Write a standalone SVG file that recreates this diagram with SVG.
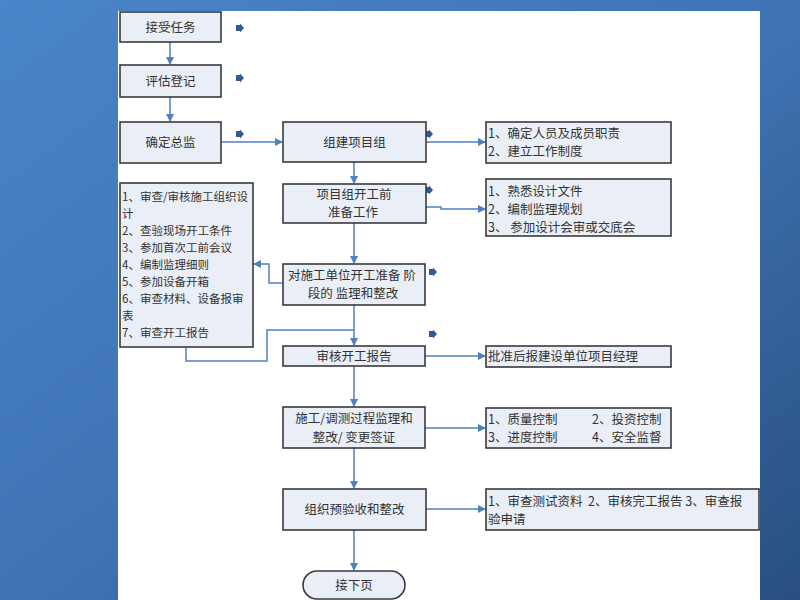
<svg xmlns="http://www.w3.org/2000/svg" width="800" height="600" viewBox="0 0 800 600">
<defs>
<linearGradient id="bg" x1="0" y1="0" x2="1" y2="1">
<stop offset="0" stop-color="#4a85c9"/>
<stop offset="0.5" stop-color="#3f74b4"/>
<stop offset="1" stop-color="#294f80"/>
</linearGradient>
<marker id="ah" markerWidth="8" markerHeight="8" refX="7" refY="4" orient="auto" markerUnits="userSpaceOnUse">
<path d="M0,0 L8,4 L0,8 Z" fill="#4f81bd"/>
</marker>
<path id="bul" d="M-4,-3 L0,-3 L0,-4.5 L4,0 L0,4.5 L0,3 L-4,3 Z" fill="#2f5a96"/>
</defs>
<style>
.box{fill:#e9eef7;stroke:#3a3a3a;stroke-width:1.6}
.t{font-family:"Noto Sans CJK SC","Noto Sans",sans-serif;font-size:12.5px;fill:#333}
.s{font-size:11.5px}
.c{text-anchor:middle}
.ln{fill:none;stroke:#4f81bd;stroke-width:1.5}
</style>
<rect x="0" y="0" width="800" height="600" fill="url(#bg)"/>
<rect x="118" y="11" width="642" height="589" fill="#ffffff"/>

<g id="connectors">
<path class="ln" d="M170,42 V64" marker-end="url(#ah)"/>
<path class="ln" d="M170,97 V121" marker-end="url(#ah)"/>
<path class="ln" d="M221,142 H282" marker-end="url(#ah)"/>
<path class="ln" d="M426,142 H485" marker-end="url(#ah)"/>
<path class="ln" d="M354,162 V183" marker-end="url(#ah)"/>
<path class="ln" d="M426,207 H441 V209 H485" marker-end="url(#ah)"/>
<path class="ln" d="M354,223 V263" marker-end="url(#ah)"/>
<path class="ln" d="M283,283 H269 V264 H254" marker-end="url(#ah)"/>
<path class="ln" d="M354,305 V345" marker-end="url(#ah)"/>
<path class="ln" d="M186,347 V361 H267 V330 H354"/>
<path class="ln" d="M425,356 H485" marker-end="url(#ah)"/>
<path class="ln" d="M354,366 V406" marker-end="url(#ah)"/>
<path class="ln" d="M425,428 H485" marker-end="url(#ah)"/>
<path class="ln" d="M354,448 V488" marker-end="url(#ah)"/>
<path class="ln" d="M426,509 H485" marker-end="url(#ah)"/>
<path class="ln" d="M354,530 V570" marker-end="url(#ah)"/>
</g>

<g id="bullets">
<use href="#bul" x="240" y="28"/>
<use href="#bul" x="240" y="78"/>
<use href="#bul" x="240" y="134"/>
<use href="#bul" x="429" y="134"/>
<use href="#bul" x="429" y="190"/>
<use href="#bul" x="433" y="272"/>
<use href="#bul" x="433" y="334"/>
</g>

<g id="n1"><rect class="box" x="120" y="12" width="101" height="30"/><text class="t c" x="170.5" y="31.5">接受任务</text></g>
<g id="n2"><rect class="box" x="120" y="65" width="101" height="32"/><text class="t c" x="170.5" y="85.5">评估登记</text></g>
<g id="n3"><rect class="box" x="120" y="122" width="101" height="41"/><text class="t c" x="170.5" y="146.5">确定总监</text></g>
<g id="n4"><rect class="box" x="283" y="122" width="143" height="40"/><text class="t c" x="354.5" y="146.5">组建项目组</text></g>
<g id="n5"><rect class="box" x="283" y="184" width="143" height="39"/><text class="t c" x="354" y="198.5">项目组开工前</text><text class="t c" x="353" y="216.5">准备工作</text></g>
<g id="n6"><rect class="box" x="283" y="264" width="142" height="41"/><text class="t c" x="352" y="279.5">对施工单位开工准备 阶</text><text class="t c" x="353" y="298">段的 监理和整改</text></g>
<g id="n7"><rect class="box" x="120" y="183" width="133" height="164"/>
<text class="t s" x="122" y="201">1、审查/审核施工组织设</text>
<text class="t s" x="122" y="218">计</text>
<text class="t s" x="122" y="234.5">2、查验现场开工条件</text>
<text class="t s" x="122" y="251.5">3、参加首次工前会议</text>
<text class="t s" x="122" y="268.5">4、编制监理细则</text>
<text class="t s" x="122" y="286">5、参加设备开箱</text>
<text class="t s" x="122" y="302.5">6、审查材料、设备报审</text>
<text class="t s" x="122" y="319.5">表</text>
<text class="t s" x="122" y="336.5">7、审查开工报告</text>
</g>
<g id="n8"><rect class="box" x="283" y="346" width="142" height="20"/><text class="t c" x="354" y="360.5">审核开工报告</text></g>
<g id="n9"><rect class="box" x="283" y="407" width="142" height="41"/><text class="t c" x="354" y="422.5">施工/调测过程监理和</text><text class="t c" x="354" y="441.5">整改/ 变更签证</text></g>
<g id="n10"><rect class="box" x="283" y="489" width="143" height="41"/><text class="t c" x="354.5" y="513.5">组织预验收和整改</text></g>
<g id="n11"><rect class="box" x="303" y="571" width="102" height="28" rx="14"/><text class="t c" x="354" y="589.5">接下页</text></g>

<g id="r1"><rect class="box" x="486" y="122" width="185" height="41"/><text class="t" x="488" y="137.5">1、确定人员及成员职责</text><text class="t" x="488" y="155.5">2、建立工作制度</text></g>
<g id="r2"><rect class="box" x="486" y="179" width="185" height="57"/><text class="t" x="488" y="195.5">1、熟悉设计文件</text><text class="t" x="488" y="213.5">2、编制监理规划</text><text class="t" x="488" y="231.5">3、 参加设计会审或交底会</text></g>
<g id="r3"><rect class="box" x="486" y="346" width="185" height="21"/><text class="t" x="488" y="361">批准后报建设单位项目经理</text></g>
<g id="r4"><rect class="box" x="486" y="408" width="185" height="40"/><text class="t" x="488" y="423.5">1、质量控制</text><text class="t" x="592" y="423.5">2、投资控制</text><text class="t" x="488" y="441.5">3、进度控制</text><text class="t" x="592" y="441.5">4、安全监督</text></g>
<g id="r5"><rect class="box" x="486" y="489" width="273" height="41"/><text class="t" x="488" y="505.5">1、审查测试资料&#160; 2、审核完工报告 3、审查报</text><text class="t" x="488" y="523.5">验申请</text></g>
</svg>
